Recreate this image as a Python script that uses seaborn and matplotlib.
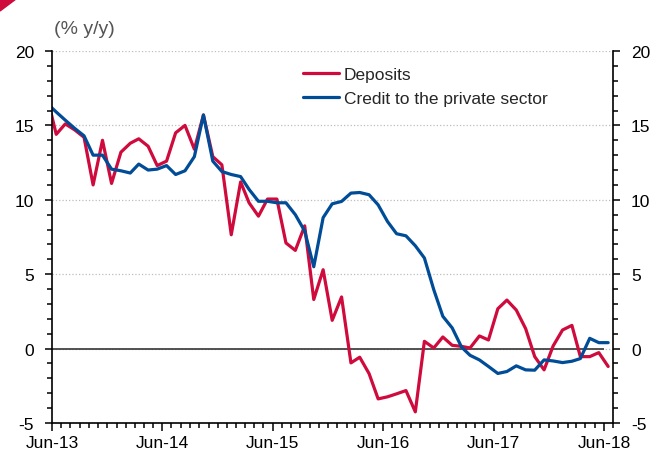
import pandas as pd
import numpy as np
import matplotlib
matplotlib.use('Agg')
import matplotlib.pyplot as plt
import matplotlib.dates as mdates
from matplotlib.ticker import MultipleLocator
from matplotlib.patches import Polygon
import seaborn as sns

# monthly readings, mid-month, May-13 .. Jun-18 (first point sits just left of the axis)
months = pd.date_range('2013-05-01', '2018-06-01', freq='MS') + pd.Timedelta(days=14)

deposits = [17.0,
            14.4, 15.1, 14.7, 14.2, 11.0, 14.0, 11.1, 13.2, 13.8, 14.1, 13.6, 12.3,
            12.6, 14.5, 15.0, 13.4, 15.7, 12.9, 12.35, 7.65, 11.2, 9.8, 8.9, 10.05,
            10.05, 7.1, 6.6, 8.25, 3.3, 5.3, 1.9, 3.47, -0.96, -0.58, -1.68, -3.38,
            -3.24, -3.04, -2.82, -4.25, 0.49, 0.04, 0.78, 0.22, 0.15, 0.04, 0.85, 0.58,
            2.68, 3.26, 2.59, 1.34, -0.54, -1.43, 0.18, 1.25, 1.56, -0.54, -0.54, -0.27,
            -1.2]

credit = [16.5,
          15.9, 15.35, 14.8, 14.3, 13.0, 13.0, 12.06, 11.95, 11.8, 12.4, 12.0, 12.06,
          12.3, 11.7, 11.95, 12.9, 15.7, 12.6, 11.9, 11.7, 11.56, 10.7, 9.9, 9.9,
          9.8, 9.8, 9.0, 7.9, 5.5, 8.8, 9.73, 9.89, 10.45, 10.49, 10.34, 9.66,
          8.54, 7.72, 7.58, 6.91, 6.09, 3.96, 2.17, 1.39, 0.1, -0.45, -0.76, -1.2,
          -1.67, -1.54, -1.16, -1.43, -1.45, -0.76, -0.83, -0.94, -0.85, -0.67, 0.69, 0.4,
          0.4]

series_names = ['Deposits', 'Credit to the private sector']
colors = {'Deposits': '#CF0A3C', 'Credit to the private sector': '#004C97'}

df = pd.DataFrame({'Date': months, series_names[0]: deposits, series_names[1]: credit})
df_long = df.melt(id_vars='Date', var_name='Series', value_name='Growth')

sns.set_style('ticks')
plt.rcParams['font.family'] = ['Liberation Sans', 'DejaVu Sans']
plt.rcParams['axes.unicode_minus'] = False

fig = plt.figure(figsize=(6.56, 4.56), dpi=100)
ax = fig.add_axes([52 / 656, 1 - 424 / 456, 561 / 656, 372 / 456])

sns.lineplot(data=df_long, x='Date', y='Growth', hue='Series', hue_order=series_names,
             palette=colors, linewidth=2.3, ax=ax)

ax.set_xlim(pd.Timestamp('2013-06-01'), pd.Timestamp('2018-07-01'))
ax.set_ylim(-5, 20)
ax.set_yticks(range(-5, 21, 5))
ax.yaxis.set_minor_locator(MultipleLocator(1))
ax.xaxis.set_major_locator(mdates.MonthLocator(bymonth=6))
ax.xaxis.set_minor_locator(mdates.MonthLocator())
ax.xaxis.set_major_formatter(mdates.DateFormatter('%b-%y'))

for v in [0, 5, 10, 15, 20]:
    ax.axhline(v, color='#bdbdbd', ls=':', lw=0.9, zorder=0)
ax.hlines(0, pd.Timestamp('2013-06-01'), pd.Timestamp('2018-06-01'),
          color='#444444', lw=1.3, zorder=1.5)

ax.spines['top'].set_visible(False)
for s in ['left', 'right', 'bottom']:
    ax.spines[s].set_visible(True)
    ax.spines[s].set_color('black')
    ax.spines[s].set_linewidth(1.2)

ax.tick_params(axis='y', which='both', left=True, right=True, labelright=True,
               direction='out', colors='black', width=1.1)
ax.tick_params(axis='y', which='major', length=5, pad=8, labelsize=12.5)
ax.tick_params(axis='y', which='minor', length=3.5)
ax.tick_params(axis='x', which='both', direction='out', width=1.1, colors='black')
ax.tick_params(axis='x', which='major', length=6, pad=3, labelsize=12.5)
ax.tick_params(axis='x', which='minor', length=3.5)

ax.set_xlabel('')
ax.set_ylabel('')

handles, labels = ax.get_legend_handles_labels()
ax.legend(handles, labels, loc='upper left', bbox_to_anchor=(0.447, 0.958),
          frameon=False, handlelength=2.1, handletextpad=0.25, labelspacing=0.5,
          fontsize=12.5, borderaxespad=0, borderpad=0)

fig.patches.append(Polygon([[0, 1], [16 / 656, 1], [0, 1 - 12 / 456]], closed=True,
                           transform=fig.transFigure, color='#CF0A3C'))
fig.text(54 / 656, 1 - 29 / 456, '(% y/y)', ha='left', va='center',
         fontsize=14, color='#555555')

fig.savefig('out.png', dpi=100)
